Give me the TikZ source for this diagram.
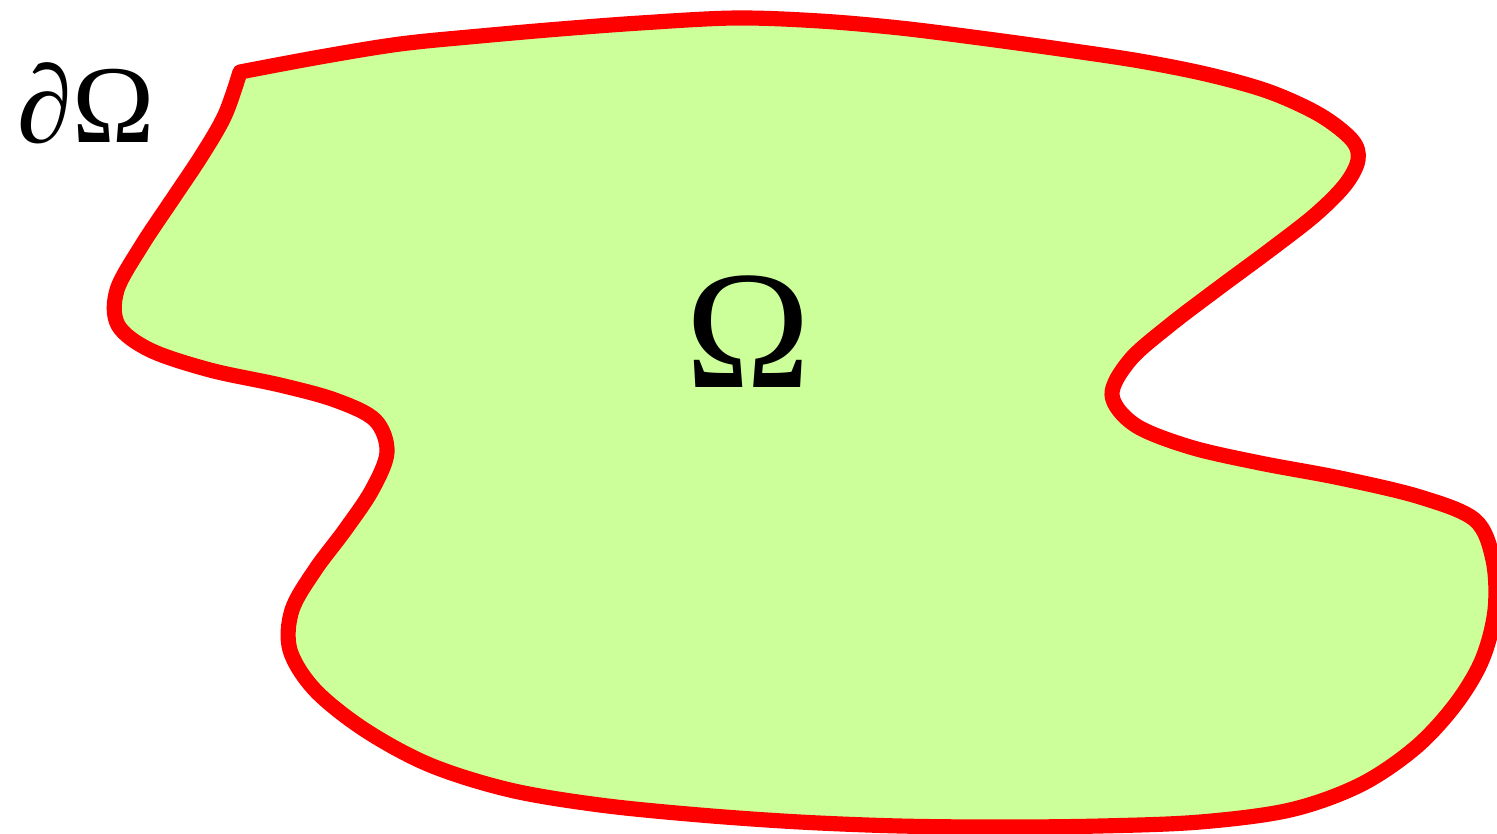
\documentclass[tikz,border=0pt]{standalone}
\usepackage{fontspec}
\setmainfont{Liberation Serif}
\definecolor{verdino}{RGB}{204,255,153}
\begin{document}
\begin{tikzpicture}[x=0.01cm,y=-0.01cm]
    \useasboundingbox (0,0) rectangle (1497,833);
    % Disegno del dominio con il bordo rosso
    \draw[red,line width=4.3pt,fill=verdino,line join=round] plot[smooth,tension=0.55] coordinates {
    (240,72) (320,57) (400,44) (480,36) (560,29) (640,23) (735,18) (820,21) (900,28)
    (980,38) (1060,49) (1140,61) (1210,75) (1270,92) (1320,115) (1352,140) (1358,160)
    (1345,185) (1315,215) (1270,250) (1220,287) (1170,325) (1130,360) (1112,395)
    (1135,425) (1190,447) (1260,463) (1340,478) (1420,497) (1475,520) (1493,560)
    (1495,610) (1482,660) (1455,705) (1415,748) (1360,785) (1290,810) (1200,822)
    (1100,826) (1000,827) (900,826) (800,822) (700,815) (600,805) (510,790) (430,765)
    (365,730) (315,690) (290,650) (292,610) (315,570) (345,530) (372,490) (387,452)
    (375,420) (335,400) (280,385) (210,370) (150,350) (118,325) (117,290) (142,245)
    (172,200) (202,155) (225,115) (240,72)} -- cycle;
    \node (omega) at (748,332) {\fontsize{48}{50}\selectfont Ω};
    \node (bordo) at (86,103) {\fontsize{31.5}{34}\selectfont\textit{∂}Ω};
\end{tikzpicture}
\end{document}
